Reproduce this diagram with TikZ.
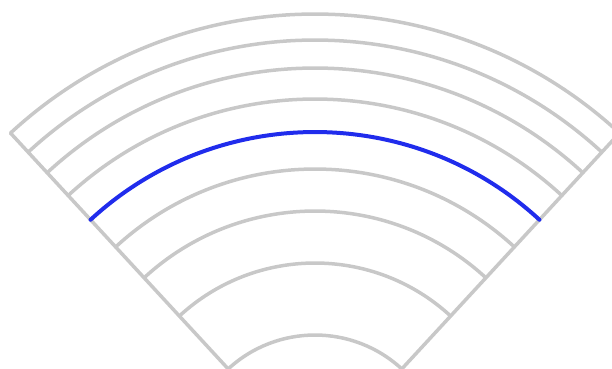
\documentclass[tikz,border=0pt]{standalone}
\usetikzlibrary{calc}
\definecolor{ringgray}{RGB}{200,200,200}
\definecolor{ringblue}{RGB}{32,44,236}
\begin{document}
\begin{tikzpicture}[x=1pt,y=1pt,
  ring/.style={draw=ringgray,line width=3.5pt,line cap=round,line join=round},
  hiring/.style={draw=ringblue,line width=4pt,line cap=round},
  edge/.style={draw=ringgray,line width=3.5pt,line cap=round}]
\useasboundingbox (0,0) rectangle (612,-368);
\clip (0,0) rectangle (612,-368);
\coordinate (O) at (315,-463);
\def\aL{132.7}
\def\aR{47.3}
% side edges
\coordinate (Lin) at ($(O)+(\aL:128)$);
\coordinate (Lout) at ($(O)+(\aL:449)$);
\coordinate (Rin) at ($(O)+(\aR:128)$);
\coordinate (Rout) at ($(O)+(\aR:449)$);
\draw[edge] (Lin) -- (Lout);
\draw[edge] (Rin) -- (Rout);
% gray rings
\foreach \r in {128,200,252,294,364,395,423,449}{
  \draw[ring] ($(O)+(\aR:\r)$) arc[start angle=\aR,end angle=\aL,radius=\r];
}
% highlighted ring
\draw[hiring] ($(O)+(\aR:331)$) arc[start angle=\aR,end angle=\aL,radius=331];
\end{tikzpicture}
\end{document}
